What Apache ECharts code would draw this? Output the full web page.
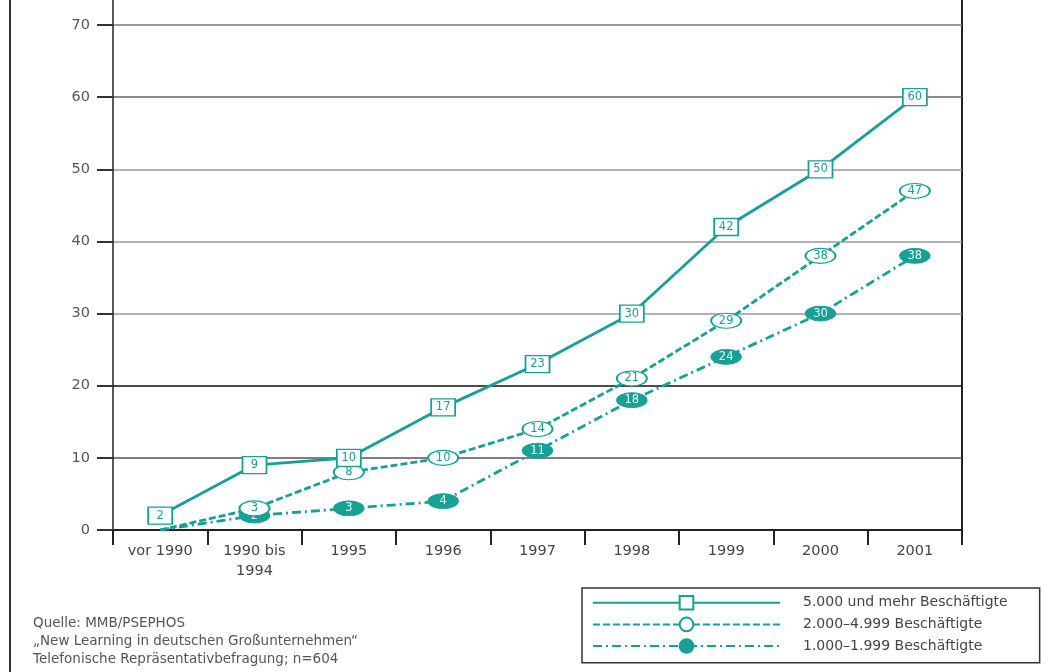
<!DOCTYPE html>
<html><head><meta charset="utf-8">
<script src="https://cdn.jsdelivr.net/npm/echarts@6/dist/echarts.min.js"></script>
<style>html,body{margin:0;padding:0;background:#fff}#c{width:1051px;height:672px}</style>
</head><body><div id="c"></div>
<script>
const categories = ['vor 1990', '1990 bis\n1994', '1995', '1996', '1997', '1998', '1999', '2000', '2001'];
const seriesNames = ['5.000 und mehr Beschäftigte', '2.000–4.999 Beschäftigte', '1.000–1.999 Beschäftigte'];
const big = [2, 9, 10, 17, 23, 30, 42, 50, 60];
const mid = [0, 3, 8, 10, 14, 21, 29, 38, 47];
const small = [0, 2, 3, 4, 11, 18, 24, 30, 38];
const yTicks = [0, 10, 20, 30, 40, 50, 60, 70];
const sourceLines = ['Quelle: MMB/PSEPHOS', '„New Learning in deutschen Großunternehmen“', 'Telefonische Repräsentativbefragung; n=604'];

const TEAL = '#17a096';
const ELLIPSE = 'path://M0 50A50 50 0 1 1 100 50A50 50 0 1 1 0 50Z';
const FONT = 'DejaVu Sans, Verdana, sans-serif';

function items(arr, hideFirstZero) {
  return arr.map((v, i) => (hideFirstZero && i === 0)
    ? { value: v, symbol: 'none', label: { show: false } }
    : v);
}

const chart = echarts.init(document.getElementById('c'));
chart.setOption({
  animation: false,
  textStyle: { fontFamily: FONT },
  title: {
    text: sourceLines.join('\n'),
    left: 28, top: 609,
    textStyle: { fontFamily: FONT, fontSize: 13.5, lineHeight: 18, color: '#555', fontWeight: 'normal' }
  },
  grid: { left: 113, right: 89, top: 25, bottom: 142, containLabel: false },
  legend: {
    orient: 'vertical',
    left: 582, top: 588,
    itemWidth: 187, itemHeight: 17, itemGap: 6,
    padding: [7, 32, 9, 10],
    borderColor: '#333', borderWidth: 1.5,
    textStyle: { fontFamily: FONT, fontSize: 14, color: '#444', padding: [0, 0, 0, 18] },
    data: seriesNames
  },
  xAxis: {
    type: 'category', data: categories, boundaryGap: true,
    axisLine: { lineStyle: { color: '#222', width: 2 } },
    axisTick: { show: true, length: 15, lineStyle: { color: '#222', width: 2 } },
    axisLabel: { color: '#444', fontSize: 14.5, margin: 11, lineHeight: 20, interval: 0 }
  },
  yAxis: {
    type: 'value', min: 0, max: 70, interval: 10,
    axisLine: { show: true, lineStyle: { color: '#222', width: 1.5 } },
    axisTick: { show: true, length: 16, lineStyle: { color: '#333', width: 2 } },
    axisLabel: { color: '#555', fontSize: 14.5, margin: 23,
      formatter: v => yTicks.includes(v) ? String(v) : '' },
    splitLine: { show: true, lineStyle: { width: 1.6,
      color: ['#444', '#555', '#111', '#999', '#999', '#999', '#666', '#777'] } }
  },
  graphic: [
    { type: 'line', shape: { x1: 10, y1: 0, x2: 10, y2: 672 }, style: { stroke: '#333', lineWidth: 2 } },
    { type: 'line', shape: { x1: 113, y1: 0, x2: 113, y2: 26 }, style: { stroke: '#222', lineWidth: 1.5 } },
    { type: 'line', shape: { x1: 962, y1: 0, x2: 962, y2: 545 }, style: { stroke: '#222', lineWidth: 2 } }
  ],
  series: [
    {
      name: seriesNames[2], type: 'line', data: items(small, true), z: 3,
      symbol: ELLIPSE, symbolSize: [30, 15],
      lineStyle: { color: TEAL, width: 2.8, type: [9, 4, 2, 4] },
      itemStyle: { color: TEAL, borderColor: TEAL, borderWidth: 1 },
      label: { show: true, position: 'inside', color: '#e8fbf9', fontSize: 11.5 }
    },
    {
      name: seriesNames[1], type: 'line', data: items(mid, true), z: 4,
      symbol: ELLIPSE, symbolSize: [30, 15],
      lineStyle: { color: TEAL, width: 2.8, type: [7, 3] },
      itemStyle: { color: '#fff', borderColor: TEAL, borderWidth: 1.5 },
      label: { show: true, position: 'inside', color: TEAL, fontSize: 11.5 }
    },
    {
      name: seriesNames[0], type: 'line', data: items(big, false), z: 5,
      symbol: 'rect', symbolSize: [24, 17],
      lineStyle: { color: TEAL, width: 2.8, type: 'solid' },
      itemStyle: { color: '#fff', borderColor: TEAL, borderWidth: 1.5 },
      label: { show: true, position: 'inside', color: TEAL, fontSize: 11.5 }
    }
  ]
});
</script>
</body></html>
